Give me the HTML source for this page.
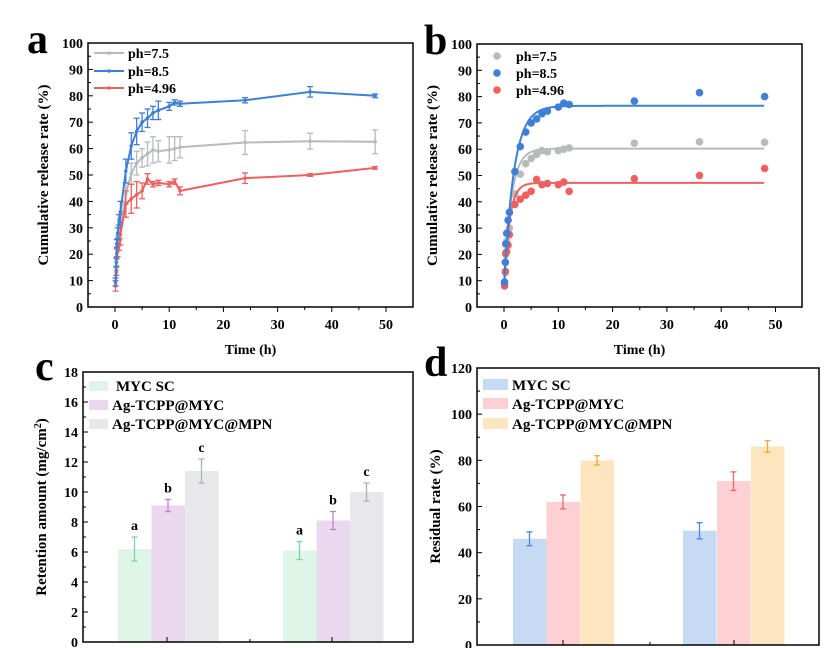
<!DOCTYPE html>
<html><head><meta charset="utf-8"><style>
body{margin:0;background:#fff}
svg{display:block;font-family:"Liberation Serif",serif;font-weight:bold}
</style></head><body>
<svg id="s" width="827" height="648" xmlns="http://www.w3.org/2000/svg"></svg>
<script>
const S=document.getElementById('s');let h='';
function T(x,y,t,sz,anc,extra){h+=`<text x="${x}" y="${y}" font-size="${sz}" text-anchor="${anc||'start'}" ${extra||''}>${t}</text>`;}
function L(x1,y1,x2,y2,c,w){h+=`<line x1="${x1}" y1="${y1}" x2="${x2}" y2="${y2}" stroke="${c||'#000'}" stroke-width="${w||1}"/>`;}
// ---- line panels
const t=[0.1,0.25,0.33,0.5,0.75,1,2,3,4,5,6,7,8,10,11,12,24,36,48];
const blue=[9.5,17,24,28,33,36,51.5,61,66.5,70,71.5,73.5,74.5,76,77.5,77,78.3,81.5,80];
const gray=[9,13,20,25,28,30,43,50.5,54.5,56.5,58,59.5,59,59.5,60,60.5,62.3,62.8,62.6];
const red=[8,13.5,20.5,21,23.5,27.5,39,41,42.5,44,48.5,46.5,47,46.5,47.5,44,48.8,50,52.7];
const eb=[1.5,1.5,1.5,2,2,4,4.5,5,5,3.5,3.5,2.5,3.5,1.5,1,1,1,2,0.7];
const eg=[1,1,2,2,3,4,4,4,4.5,3.5,4.5,5,4,5,4.5,4,4.5,3,4.5];
const er=[2,1.5,1.5,2,2,4,5,5.5,5,3,2,1,1,1,1,1.5,2,0.5,0.5];
const C={g:'#b5bdb9',b:'#3f7fd6',r:'#ee6060'};
function axesLine(L0,R,Tp,B,x0,xs,letter,lx){
  h+=`<rect x="${L0}" y="${Tp}" width="${R-L0}" height="${B-Tp}" fill="none" stroke="#000" stroke-width="1.5"/>`;
  for(let v=0;v<=100;v+=5){const y=B-v*(B-Tp)/100;L(L0,y,L0+(v%10?3:5),y);if(v%10==0)T(L0-5,y+5,v,14,'end');}
  for(let v=-5;v<=55;v+=5){const x=x0+v*xs;if(x<L0||x>R)continue;L(x,B,x,B+(v%10?3:5));if(v%10==0)T(x,B+22,v,14,'middle');}
  T((L0+R)/2,B+47,'Time (h)',14,'middle');
  const cy=(Tp+B)/2;T(0,0,'Cumulative release rate (%)',15,'middle',`transform="translate(${L0-40},${cy}) rotate(-90)"`);
  T(lx,Tp+10,letter,42,'start');
}
// a
{const L0=88,R=413,Tp=43,B=307,x0=115,xs=5.42,ys=(B-Tp)/100;
 axesLine(L0,R,Tp,B,x0,xs,'a',27);
 const X=v=>x0+v*xs,Y=v=>B-v*ys;
 [[gray,eg,C.g],[red,er,C.r],[blue,eb,C.b]].forEach(([d,e,c])=>{
  h+=`<polyline fill="none" stroke="${c}" stroke-width="2" points="${t.map((v,i)=>X(v)+','+Y(d[i])).join(' ')}"/>`;
  t.forEach((v,i)=>{const x=X(v);L(x,Y(d[i]-e[i]),x,Y(d[i]+e[i]),c,1.3);L(x-3,Y(d[i]-e[i]),x+3,Y(d[i]-e[i]),c,1.3);L(x-3,Y(d[i]+e[i]),x+3,Y(d[i]+e[i]),c,1.3);h+=`<circle cx="${x}" cy="${Y(d[i])}" r="1.8" fill="${c}"/>`;});
 });
 [['ph=7.5',C.g,53],['ph=8.5',C.b,71],['ph=4.96',C.r,88]].forEach(([s,c,y])=>{L(94,y,124,y,c,2);h+=`<circle cx="109" cy="${y}" r="1.8" fill="${c}"/>`;T(128,y+5,s,14);});
}
// b
{const L0=477,R=802,Tp=44,B=307,x0=504,xs=5.43,ys=(B-Tp)/100;
 axesLine(L0,R,Tp,B,x0,xs,'b',424);
 const X=v=>x0+v*xs,Y=v=>B-v*ys;
 [[gray,C.g,60.2,0.75,8],[red,C.r,47.2,1.0,7],[blue,C.b,76.5,0.55,8]].forEach(([d,c,A,k,y0])=>{
  let p=[];for(let v=0;v<=48;v+=0.1){p.push(X(v)+','+Y(y0+(A-y0)*(1-Math.exp(-k*v))));}
  h+=`<polyline fill="none" stroke="${c}" stroke-width="2" points="${p.join(' ')}"/>`;
  t.forEach((v,i)=>{h+=`<circle cx="${X(v)}" cy="${Y(d[i])}" r="3.8" fill="${c}"/>`;});
 });
 [['ph=7.5',C.g,56],['ph=8.5',C.b,73],['ph=4.96',C.r,90]].forEach(([s,c,y])=>{h+=`<circle cx="497" cy="${y}" r="3.8" fill="${c}"/>`;T(516,y+5,s,14);});
}
// bars
function bars(L0,R,Tp,B,max,step,minor,yt,vals,cols,ecols,groups,ticks,letters,lx,letter,legx){
  const ys=(B-Tp)/max;
  groups.forEach((g,gi)=>{g.forEach((x,i)=>{const v=vals[gi][i][0],e=vals[gi][i][1];
    h+=`<rect x="${x}" y="${B-v*ys}" width="33.5" height="${v*ys}" fill="${cols[i]}"/>`;
    const cx=x+16.5,c=ecols[i];L(cx,B-(v-e)*ys,cx,B-(v+e)*ys,c,1.3);L(cx-3,B-(v-e)*ys,cx+3,B-(v-e)*ys,c,1.3);L(cx-3,B-(v+e)*ys,cx+3,B-(v+e)*ys,c,1.3);
    if(letters)T(cx,B-(v+e)*ys-7,letters[i],14,'middle');});});
  h+=`<rect x="${L0}" y="${Tp}" width="${R-L0}" height="${B-Tp}" fill="none" stroke="#000" stroke-width="1.5"/>`;
  for(let v=0;v<=max;v+=minor){const y=B-v*ys;const maj=Math.abs(v/step-Math.round(v/step))<1e-6;L(L0,y,L0+(maj?5:3),y);if(maj)T(L0-5,y+5,v,14,'end');}
  ticks.forEach((x,i)=>L(x,B,x,B-(i==1?3:5)));
  const cy=(Tp+B)/2;T(0,0,yt,15,'middle',`transform="translate(${L0-37},${cy}) rotate(-90)"`);
  T(lx,Tp+8,letter,42);
}
bars(83,413,372,642,18,2,1,'Retention amount (mg/cm<tspan baseline-shift="super" font-size="10">2</tspan>)',
 [[[6.2,0.8],[9.1,0.4],[11.4,0.8]],[[6.1,0.6],[8.1,0.6],[10.0,0.6]]],
 ['#dff5e7','#ead8ef','#e8e8ea'],['#80d3a6','#c47fcf','#a9b4b1'],[[118,151.5,185],[283,316.5,350]],[167,250,332],['a','b','c'],35,'c');
[['MYC SC','#dff5e7',381,116],['Ag-TCPP@MYC','#ead8ef',400,112],['Ag-TCPP@MYC@MPN','#e8e8ea',419,112]].forEach(([s,c,y,tx])=>{h+=`<rect x="89" y="${y}" width="19" height="10" fill="${c}"/>`;T(tx,y+10,s,15);});
bars(477,819,368,645,120,20,10,'Residual rate (%)',
 [[[46,3],[62,3],[80,2]],[[49.5,3.5],[71,4],[86,2.5]]],
 ['#c6daf3','#fdd1d3','#fde5c0'],['#4a86d8','#e96a6f','#f5a43a'],[[513,546.5,580.5],[683,717,751]],[563,650,734],null,424,'d');
[['MYC SC','#c6daf3',379],['Ag-TCPP@MYC','#fdd1d3',398],['Ag-TCPP@MYC@MPN','#fde5c0',418]].forEach(([s,c,y])=>{h+=`<rect x="483" y="${y}" width="25" height="11" fill="${c}"/>`;T(512,y+11,s,15);});
S.innerHTML=h;
</script>
</body></html>
